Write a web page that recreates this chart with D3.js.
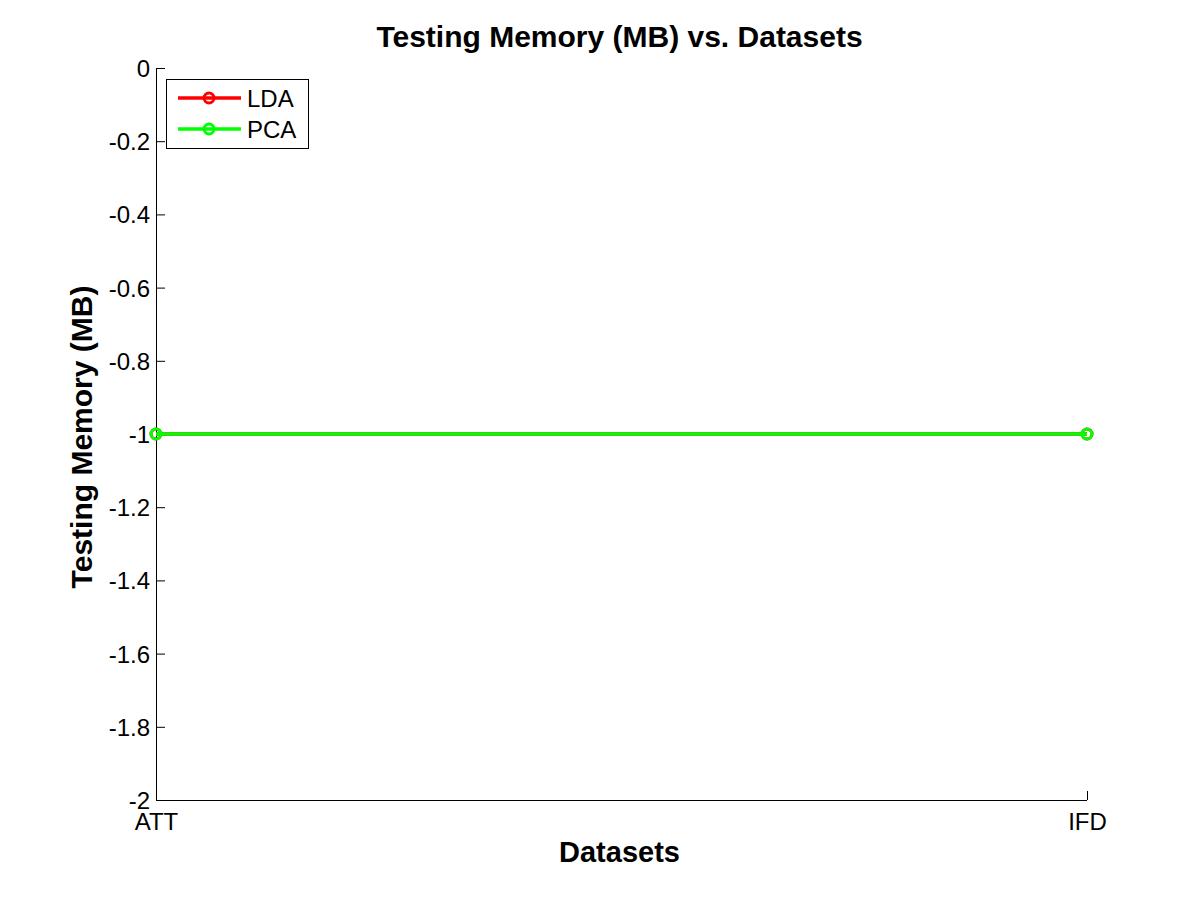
<!DOCTYPE html>
<html>
<head>
<meta charset="utf-8">
<script src="https://cdn.jsdelivr.net/npm/d3@7"></script>
<style>
  body { margin: 0; background: #fff; }
  text { font-family: "Liberation Sans", Arial, sans-serif; }
</style>
</head>
<body>
<div id="chart"></div>
<script>
(function () {
    'use strict';

    // data
    var datasets = ['ATT', 'IFD'];
    var ldaValues = [-1, -1];
    var pcaValues = [-1, -1];
    var yTicks = [0, -0.2, -0.4, -0.6, -0.8, -1, -1.2, -1.4, -1.6, -1.8, -2];

    var w = 1200, h = 900;
    var left = 156, right = 1087, top = 68, bottom = 800;

    var svg = d3.select('#chart').append('svg')
                .attr('width', w).attr('height', h);

    var x = d3.scalePoint().domain(datasets).range([left, right]);
    var y = d3.scaleLinear().domain([-2, 0]).range([bottom, top]);

    // y axis, ticks pointing inward, plain hyphen for minus
    var yAxis = svg.append('g')
        .attr('transform', 'translate(' + left + ',0)')
        .call(d3.axisRight(y).tickValues(yTicks).tickSize(9)
              .tickFormat(function (d) { return String(+d.toFixed(1)); }));
    yAxis.select('.domain').attr('stroke', '#000').attr('stroke-width', 1)
         .attr('d', 'M0.5,' + top + 'V' + bottom);
    yAxis.selectAll('.tick line').attr('stroke', '#000');
    yAxis.selectAll('.tick text')
         .attr('x', -6).attr('text-anchor', 'end')
         .attr('font-size', 24).attr('fill', '#000').attr('dy', '0.35em');

    // x axis, ticks pointing up
    var xAxis = svg.append('g')
        .attr('transform', 'translate(0,' + bottom + ')')
        .call(d3.axisTop(x).tickSize(9));
    xAxis.select('.domain').attr('stroke', '#000').attr('d', 'M' + left + ',0.5H' + right);
    xAxis.selectAll('.tick line').attr('stroke', '#000');
    xAxis.selectAll('.tick text')
         .attr('y', 30).attr('dy', 0)
         .attr('font-size', 24).attr('fill', '#000');

    var series = [
        { name: 'LDA', values: ldaValues, color: '#ff0000' },
        { name: 'PCA', values: pcaValues, color: '#00ff00' }
    ];

    var line = d3.line()
        .x(function (d, i) { return x(datasets[i]); })
        .y(function (d) { return y(d); });

    series.forEach(function (s) {
        var g = svg.append('g');
        g.append('path').datum(s.values)
         .attr('d', line).attr('fill', 'none')
         .attr('stroke', s.color).attr('stroke-width', 3.5);
        g.selectAll('circle').data(s.values).enter().append('circle')
         .attr('cx', function (d, i) { return x(datasets[i]); })
         .attr('cy', function (d) { return y(d); })
         .attr('r', 5).attr('fill', 'none')
         .attr('stroke', s.color).attr('stroke-width', 3);
    });

    // title and axis labels
    svg.append('text').attr('x', (left + right) / 2 - 2).attr('y', 47)
       .attr('text-anchor', 'middle').attr('font-size', 30).attr('font-weight', 'bold')
       .text('Testing Memory (MB) vs. Datasets');
    svg.append('text').attr('x', (left + right) / 2 - 2).attr('y', 862)
       .attr('text-anchor', 'middle').attr('font-size', 29).attr('font-weight', 'bold')
       .text('Datasets');
    svg.append('text')
       .attr('transform', 'translate(92,' + ((top + bottom) / 2 + 3) + ') rotate(-90)')
       .attr('text-anchor', 'middle').attr('font-size', 30).attr('font-weight', 'bold')
       .text('Testing Memory (MB)');

    // legend
    var lg = svg.append('g').attr('transform', 'translate(166,79)');
    lg.append('rect').attr('x', 0.5).attr('y', 0.5).attr('width', 142).attr('height', 69)
      .attr('fill', '#fff').attr('stroke', '#000');
    series.forEach(function (s, i) {
        var cy = 19 + i * 31;
        lg.append('line').attr('x1', 12).attr('x2', 75).attr('y1', cy).attr('y2', cy)
          .attr('stroke', s.color).attr('stroke-width', 3.5);
        lg.append('circle').attr('cx', 43).attr('cy', cy).attr('r', 5)
          .attr('fill', 'none').attr('stroke', s.color).attr('stroke-width', 3);
        lg.append('text').attr('x', 81).attr('y', cy + 9)
          .attr('font-size', 24).text(s.name);
    });
})();
</script>
</body>
</html>
